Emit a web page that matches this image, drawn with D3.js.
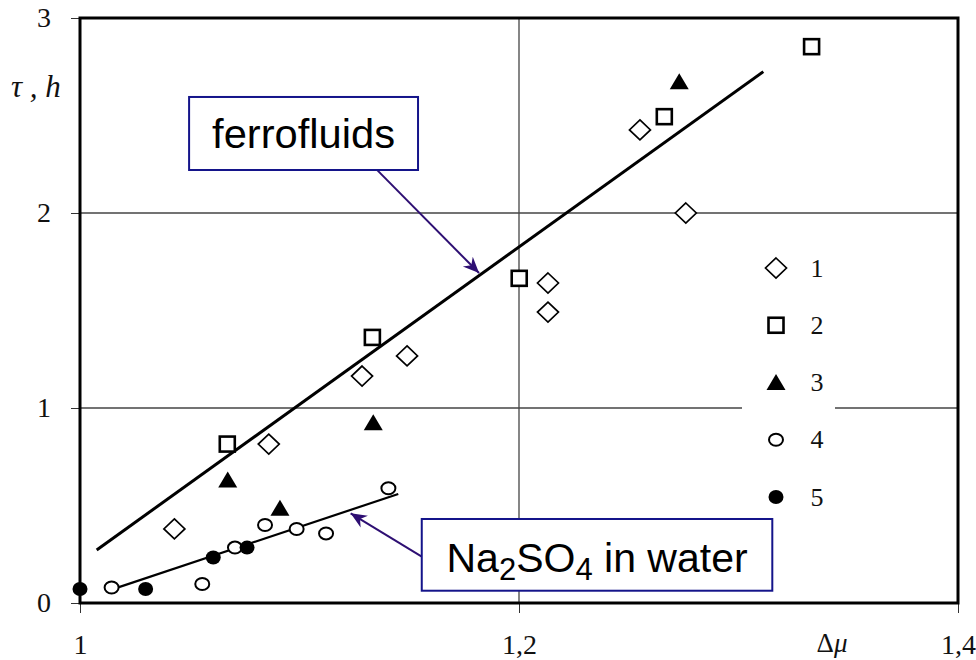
<!DOCTYPE html>
<html><head><meta charset="utf-8">
<script src="https://cdn.jsdelivr.net/npm/d3@7"></script>
<style>
  body { margin: 0; background: #fff; }
  svg { display: block; }
</style>
</head><body>
<svg id="chart" width="976" height="660"></svg>
<script>
// Δμ (x) and τ, h (y) readings for the five sample sets
const set1X = [1.043, 1.086, 1.1285, 1.149, 1.2132, 1.2132, 1.2551, 1.276];
const set1Y = [0.38, 0.815, 1.164, 1.267, 1.641, 1.492, 2.426, 2.0];
const set2X = [1.0671, 1.1332, 1.2001, 1.2662, 1.3333];
const set2Y = [0.815, 1.362, 1.665, 2.494, 2.853];
const set3X = [1.0673, 1.0911, 1.1336, 1.273];
const set3Y = [0.631, 0.486, 0.925, 2.673];
const set4X = [1.0144, 1.0557, 1.0706, 1.0843, 1.0987, 1.1121, 1.1405];
const set4Y = [0.08, 0.097, 0.284, 0.40, 0.38, 0.357, 0.588];
const set5X = [1.0, 1.0299, 1.0607, 1.0761];
const set5Y = [0.072, 0.072, 0.233, 0.284];
const setLabels = ["1", "2", "3", "4", "5"];

// Linear trends: ferrofluids and Na2SO4 solution
const ferroLineX = [1.0076, 1.3113];
const ferroLineY = [0.272, 2.725];
const saltLineX = [1.0174, 1.145];
const saltLineY = [0.08, 0.559];

// Axis ticks and grid
const xTicks = [1, 1.2, 1.4];
const yTicks = [0, 1, 2, 3];
const xGrid = [1.2];
const yGrid = [1, 2];

// Callouts (data units): box corners [x0, yTop, x1, yBottom], arrow start and tip
const ferroBox = [1.0497, 2.595, 1.1540, 2.2205];
const ferroArrow = [[1.1353, 2.221], [1.1818, 1.692]];
const saltBox = [1.1557, 0.4308, 1.3154, 0.063];
const saltArrow = [[1.1557, 0.2374], [1.1233, 0.46]];

const W = 976, H = 660;
const x = d3.scaleLinear().domain([1, 1.4]).range([80, 958]);
const y = d3.scaleLinear().domain([0, 3]).range([603, 18]);

const svg = d3.select("#chart");
const serif = "'Liberation Serif', 'Times New Roman', serif";
const sans = "'Liberation Sans', Arial, sans-serif";

svg.append("rect").attr("width", W).attr("height", H).attr("fill", "#fff");

// grid lines
svg.append("g").selectAll("line").data(xGrid).join("line")
  .attr("x1", d => x(d)).attr("x2", d => x(d))
  .attr("y1", y(0)).attr("y2", y(3))
  .attr("stroke", "#444").attr("stroke-width", 1.3);
svg.append("g").selectAll("line").data(yGrid).join("line")
  .attr("x1", x(1)).attr("x2", x(1.4))
  .attr("y1", d => y(d)).attr("y2", d => y(d))
  .attr("stroke", "#444").attr("stroke-width", 1.3);

// axes (ticks + labels; frame drawn separately)
const fmt = d => String(d).replace(".", ",");
const xAxis = svg.append("g").attr("transform", `translate(0,${y(0)})`)
  .call(d3.axisBottom(x).tickValues(xTicks).tickFormat(fmt).tickSize(10).tickPadding(21));
const yAxis = svg.append("g").attr("transform", `translate(${x(1)},0)`)
  .call(d3.axisLeft(y).tickValues(yTicks).tickFormat(fmt).tickSize(9).tickPadding(20));
[xAxis, yAxis].forEach(a => {
  a.attr("font-family", serif).attr("font-size", 28);
  a.select(".domain").remove();
  a.selectAll(".tick line").attr("stroke", "#333").attr("stroke-width", 1);
  a.selectAll(".tick text").attr("font-family", serif).attr("font-size", 28).attr("fill", "#111");
});

// axis titles
svg.append("text").attr("x", 832).attr("y", 652).attr("text-anchor", "middle")
  .attr("font-family", serif).attr("font-size", 27).attr("fill", "#111")
  .html("Δ<tspan font-style='italic'>μ</tspan>");
svg.append("text").attr("x", 11).attr("y", 97)
  .attr("font-family", serif).attr("font-size", 31).attr("font-style", "italic").attr("fill", "#111")
  .text("τ , h");

// legend background (blanks the grid line behind it)
svg.append("rect").attr("x", 742).attr("y", 240).attr("width", 93).attr("height", 285).attr("fill", "#fff");

// trend lines
const line = d3.line().x(d => x(d[0])).y(d => y(d[1]));
svg.append("path").datum(d3.zip(ferroLineX, ferroLineY)).attr("d", line)
  .attr("stroke", "#000").attr("stroke-width", 3).attr("fill", "none");
svg.append("path").datum(d3.zip(saltLineX, saltLineY)).attr("d", line)
  .attr("stroke", "#000").attr("stroke-width", 2.2).attr("fill", "none");

// marker shapes
function marker(sel, kind) {
  if (kind === "diamond") {
    sel.append("path").attr("d", "M0,-10 L10.5,0 L0,10 L-10.5,0Z")
      .attr("fill", "#fff").attr("stroke", "#000").attr("stroke-width", 1.7);
  } else if (kind === "square") {
    sel.append("rect").attr("x", -7.5).attr("y", -7.5).attr("width", 15).attr("height", 15)
      .attr("fill", "#fff").attr("stroke", "#000").attr("stroke-width", 2.6);
  } else if (kind === "triangle") {
    sel.append("path").attr("d", "M0,-8.5 L9.5,7.5 L-9.5,7.5Z").attr("fill", "#000");
  } else if (kind === "circle") {
    sel.append("ellipse").attr("rx", 7).attr("ry", 6)
      .attr("fill", "#fff").attr("stroke", "#000").attr("stroke-width", 2);
  } else {
    sel.append("ellipse").attr("rx", 7.5).attr("ry", 7).attr("fill", "#000");
  }
}

const sets = [
  { xs: set1X, ys: set1Y, kind: "diamond" },
  { xs: set2X, ys: set2Y, kind: "square" },
  { xs: set3X, ys: set3Y, kind: "triangle" },
  { xs: set4X, ys: set4Y, kind: "circle" },
  { xs: set5X, ys: set5Y, kind: "dot" }
];

sets.forEach(s => {
  svg.append("g").selectAll("g").data(d3.zip(s.xs, s.ys)).join("g")
    .attr("transform", d => `translate(${x(d[0])},${y(d[1])})`)
    .each(function () { marker(d3.select(this), s.kind); });
});

// legend
const legY = d3.scalePoint().domain(setLabels).range([268, 497]);
const leg = svg.append("g").selectAll("g").data(sets).join("g")
  .attr("transform", (d, i) => `translate(776,${legY(setLabels[i])})`);
leg.each(function (d) { marker(d3.select(this), d.kind); });
leg.append("text").attr("x", 41).attr("dy", "0.33em").attr("text-anchor", "middle")
  .attr("font-family", serif).attr("font-size", 26).attr("fill", "#111")
  .text((d, i) => setLabels[i]);

// callouts
const boxStroke = "#14148a", arrowColor = "#2e0f73";
svg.append("defs").append("marker").attr("id", "head")
  .attr("viewBox", "-16 -8 18 16").attr("refX", 0).attr("refY", 0)
  .attr("markerWidth", 18).attr("markerHeight", 16).attr("markerUnits", "userSpaceOnUse")
  .attr("orient", "auto")
  .append("path").attr("d", "M0,0 L-16,-7 L-11,0 L-16,7Z").attr("fill", arrowColor);

function callout(box, arrow) {
  svg.append("line")
    .attr("x1", x(arrow[0][0])).attr("y1", y(arrow[0][1]))
    .attr("x2", x(arrow[1][0])).attr("y2", y(arrow[1][1]))
    .attr("stroke", arrowColor).attr("stroke-width", 2).attr("marker-end", "url(#head)");
  svg.append("rect")
    .attr("x", x(box[0])).attr("y", y(box[1]))
    .attr("width", x(box[2]) - x(box[0])).attr("height", y(box[3]) - y(box[1]))
    .attr("fill", "#fff").attr("stroke", boxStroke).attr("stroke-width", 2);
}
callout(ferroBox, ferroArrow);
callout(saltBox, saltArrow);

svg.append("text")
  .attr("x", (x(ferroBox[0]) + x(ferroBox[2])) / 2).attr("y", y(ferroBox[3]) - 22)
  .attr("text-anchor", "middle").attr("font-family", sans).attr("font-size", 40).attr("fill", "#000")
  .attr("textLength", 183).attr("lengthAdjust", "spacingAndGlyphs")
  .text("ferrofluids");

const saltText = svg.append("text")
  .attr("x", (x(saltBox[0]) + x(saltBox[2])) / 2).attr("y", y(saltBox[3]) - 19)
  .attr("text-anchor", "middle").attr("font-family", sans).attr("font-size", 41).attr("fill", "#000");
saltText.append("tspan").text("Na");
saltText.append("tspan").attr("dy", 8).attr("font-size", 31).text("2");
saltText.append("tspan").attr("dy", -8).text("SO");
saltText.append("tspan").attr("dy", 8).attr("font-size", 31).text("4");
saltText.append("tspan").attr("dy", -8).text(" in water");

// plot frame
svg.append("rect").attr("x", x(1)).attr("y", y(3))
  .attr("width", x(1.4) - x(1)).attr("height", y(0) - y(3))
  .attr("fill", "none").attr("stroke", "#000").attr("stroke-width", 3);
</script>
</body></html>
